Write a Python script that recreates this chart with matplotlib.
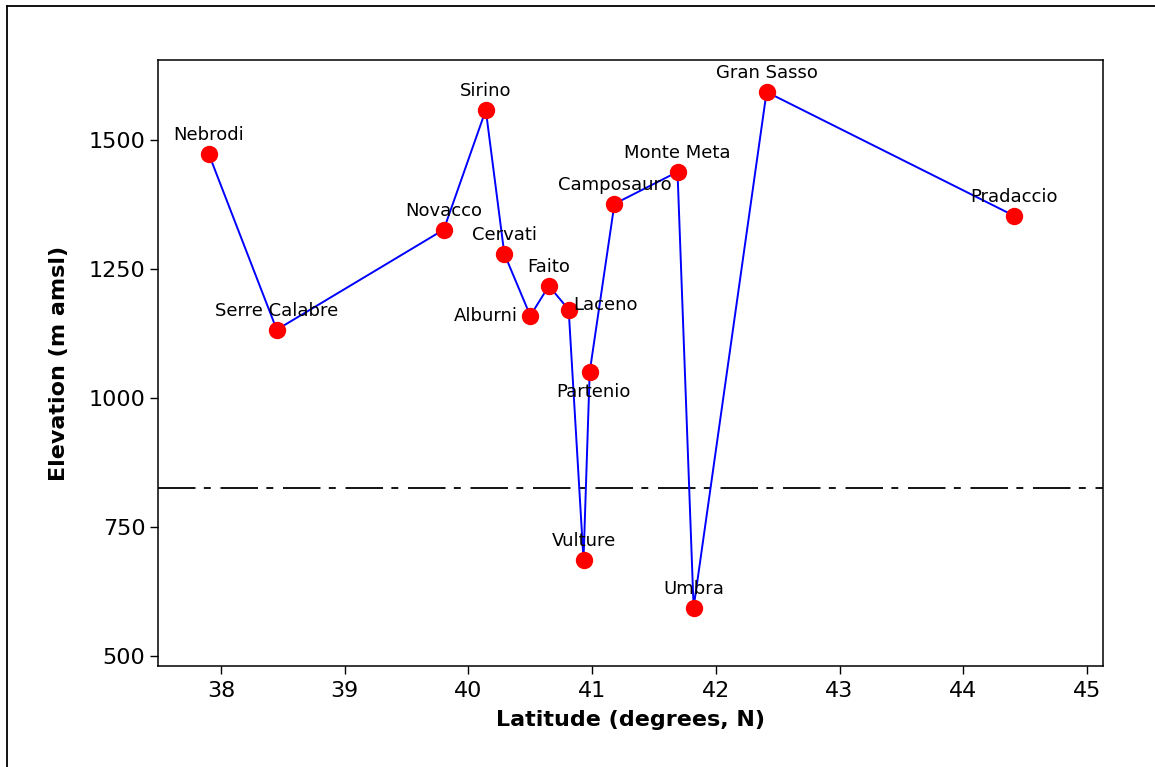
import matplotlib
matplotlib.use("Agg")
import matplotlib.pyplot as plt
from matplotlib.lines import Line2D

# site data
sites = ["Nebrodi", "Serre Calabre", "Novacco", "Sirino", "Cervati", "Alburni",
         "Faito", "Laceno", "Vulture", "Partenio", "Camposauro", "Monte Meta",
         "Umbra", "Gran Sasso", "Pradaccio"]
latitude = [37.90, 38.45, 39.80, 40.14, 40.29, 40.50, 40.65, 40.81, 40.93,
            40.98, 41.18, 41.69, 41.82, 42.41, 44.41]
elevation = [1473, 1132, 1326, 1558, 1279, 1159, 1217, 1171, 686, 1050,
             1376, 1438, 593, 1593, 1353]
ref_level = 826

# label placement: (dx, dy) in points, ha, va
label_pos = {
    "Alburni": ((-9, 0), "right", "center"),
    "Laceno": ((3, 3), "left", "center"),
    "Partenio": ((3, -8), "center", "top"),
}

plt.rcParams["font.family"] = "DejaVu Sans"
plt.rcParams["lines.scale_dashes"] = False

fig = plt.figure(figsize=(11.55, 7.67), dpi=100)
ax = fig.add_axes([0.1368, 0.1317, 0.8182, 0.7901])

ax.plot(latitude, elevation, color="blue", lw=1.4, zorder=2)
ax.plot(latitude, elevation, "o", color="red", ms=11.5, mec="red", zorder=3)

ax.axhline(ref_level, color="black", lw=1.3, dashes=(27, 6, 5, 7), zorder=1)

for name, x, y in zip(sites, latitude, elevation):
    (dx, dy), ha, va = label_pos.get(name, ((0, 7), "center", "bottom"))
    ax.annotate(name, (x, y), xytext=(dx, dy), textcoords="offset points",
                ha=ha, va=va, fontsize=13)

ax.set_xlim(37.49, 45.13)
ax.set_ylim(480, 1655)
ax.set_xticks(range(38, 46))
ax.set_yticks([500, 750, 1000, 1250, 1500])
ax.tick_params(direction="out", length=6, width=1, labelsize=16)
ax.tick_params(axis="x", pad=5)
ax.tick_params(axis="y", pad=3)
for s in ax.spines.values():
    s.set_linewidth(1.1)

ax.set_xlabel("Latitude (degrees, N)", fontsize=16, fontweight="bold", labelpad=6)
ax.set_ylabel("Elevation (m amsl)", fontsize=16, fontweight="bold", labelpad=14)

# outer frame of the figure
fig.add_artist(Line2D([7 / 1155, 7 / 1155], [0, 1 - 6 / 767], transform=fig.transFigure, color="black", lw=1.3))
fig.add_artist(Line2D([7 / 1155, 1], [1 - 6 / 767, 1 - 6 / 767], transform=fig.transFigure, color="black", lw=1.3))

fig.savefig("out.png", dpi=100)
